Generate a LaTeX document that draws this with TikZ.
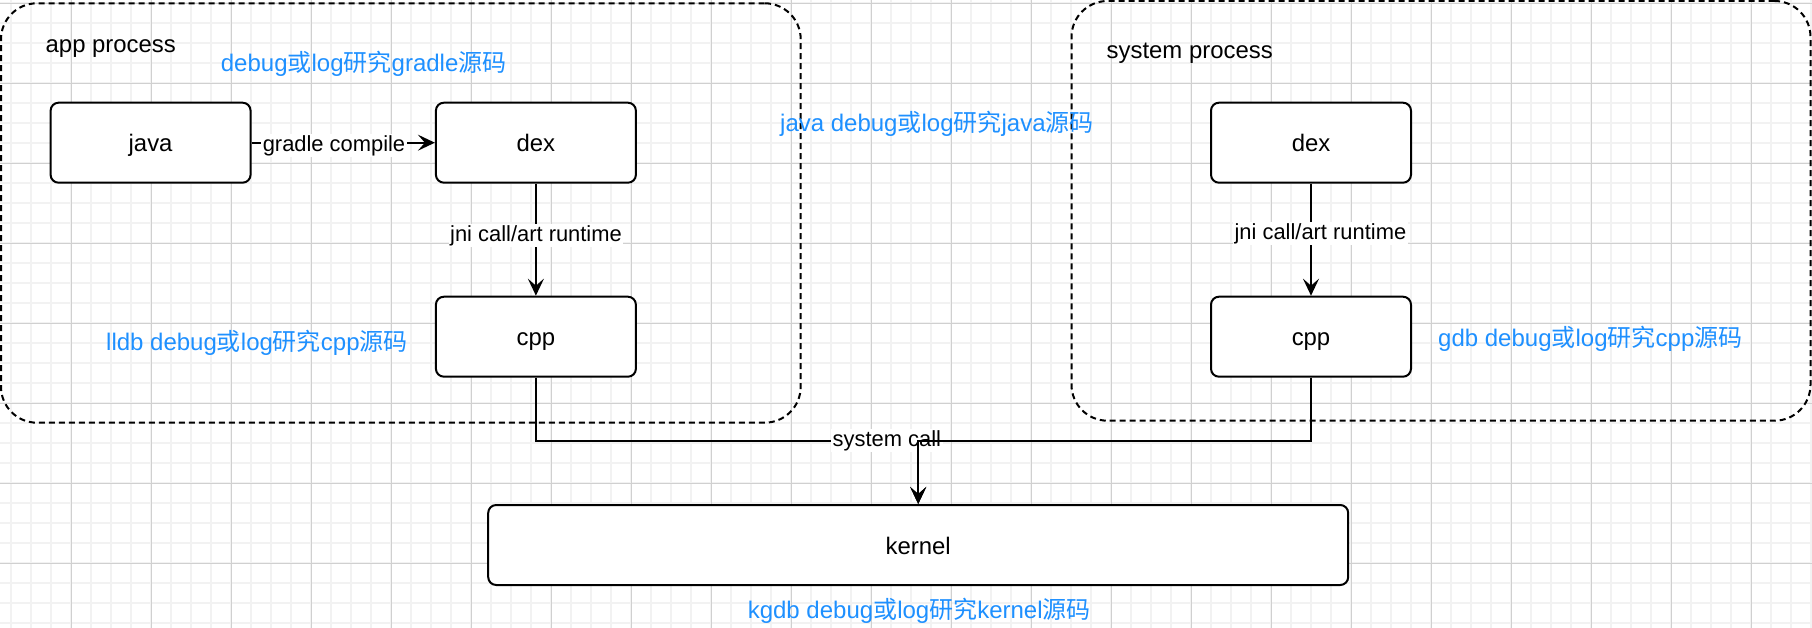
\documentclass[tikz,border=0pt]{standalone}
\usepackage{fontspec}
\setmainfont{Liberation Sans}
\newfontfamily\cjkfont{Noto Sans CJK SC}
\newcommand{\zh}[1]{{\cjkfont #1}}
\usetikzlibrary{arrows.meta}
\definecolor{minorgrid}{RGB}{242,242,242}
\definecolor{majorgrid}{RGB}{208,208,208}
\definecolor{noteblue}{RGB}{30,144,255}
\begin{document}
\begin{tikzpicture}[x=1pt,y=-1pt,
  box/.style={draw=black, line width=2pt, rounded corners=8pt, fill=white,
    minimum width=200pt, minimum height=80pt, inner sep=0pt,
    text height=18pt, text depth=0pt, font=\fontsize{23.9pt}{28pt}\selectfont},
  groupbox/.style={draw=black, line width=2pt, rounded corners=36pt,
    dash pattern=on 6pt off 4pt, inner sep=0pt},
  txt/.style={inner sep=0pt, font=\fontsize{23.9pt}{28pt}\selectfont},
  note/.style={inner sep=0pt, text=noteblue, font=\fontsize{24pt}{28pt}\selectfont},
  lbl/.style={fill=white, inner sep=1.5pt, text height=16pt, text depth=4pt,
    font=\fontsize{21.9pt}{26pt}\selectfont},
  edge/.style={draw=black, line width=2pt,
    -{Stealth[length=17pt,width=16pt,inset=7pt]}},
]
% background and grid
\fill[white] (0,0) rectangle (1812,628);
\useasboundingbox (0,0) rectangle (1812,628);
\foreach \i in {0,...,90} \draw[minorgrid, line width=2pt] ({11.3+20*\i},0) -- ({11.3+20*\i},628);
\foreach \i in {0,...,31} \draw[minorgrid, line width=2pt] (0,{3.3+20*\i}) -- (1812,{3.3+20*\i});
\foreach \i in {0,...,21} \draw[majorgrid, line width=1pt] ({71.3+80*\i},0) -- ({71.3+80*\i},628);
\foreach \i in {0,...,7} \draw[majorgrid, line width=1pt] (0,{3.3+80*\i}) -- (1812,{3.3+80*\i});

% process groups
\node[groupbox, minimum width=799.7pt, minimum height=419.4pt] (app) at (400.85,213) {};
\node[groupbox, minimum width=739pt, minimum height=419.7pt] (sys) at (1441,210.85) {};
\node[txt, anchor=base west] (applbl) at (45.5,52.7) {app process};
\node[txt, anchor=base west] (syslbl) at (1106.5,58.5) {system process};

% boxes
\node[box] (java) at (150.6,142.7) {java};
\node[box] (dex) at (535.9,142.7) {dex};
\node[box] (cpp) at (535.9,336.7) {cpp};
\node[box] (dex2) at (1311,142.7) {dex};
\node[box] (cpp2) at (1311,336.7) {cpp};
\node[box, minimum width=860pt] (kernel) at (918.2,545) {kernel};

% notes
\node[note, anchor=base west] (n1) at (220.7,72) {debug\zh{或}log\zh{研究}gradle\zh{源码}};
\node[note, anchor=base west] (n2) at (780,132) {java debug\zh{或}log\zh{研究}java\zh{源码}};
\node[note, anchor=base west] (n3) at (106,350) {lldb debug\zh{或}log\zh{研究}cpp\zh{源码}};
\node[note, anchor=base west] (n4) at (1438,346.5) {gdb debug\zh{或}log\zh{研究}cpp\zh{源码}};
\node[note, anchor=base west] (n5) at (747.6,618) {kgdb debug\zh{或}log\zh{研究}kernel\zh{源码}};

% connectors
\draw[edge] (java.east) -- (dex.west);
\node[lbl, anchor=base] (gc) at (334,151.5) {gradle compile};
\draw[edge] (dex.south) -- (cpp.north);
\node[lbl, anchor=base] (jni1) at (536,241.7) {jni call/art runtime};
\draw[edge] (dex2.south) -- (cpp2.north);
\node[lbl, anchor=base] (jni2) at (1320.4,240) {jni call/art runtime};

\coordinate (busM) at (918.2,441);
\draw[edge] (cpp.south) -- (cpp.south |- busM) -- (busM) -- (kernel.north);
\node[lbl, anchor=base west] (syscall) at (831,446.7) {system call};
\draw[edge] (cpp2.south) -- (cpp2.south |- busM) -- (busM) -- (kernel.north);
\end{tikzpicture}
\end{document}
